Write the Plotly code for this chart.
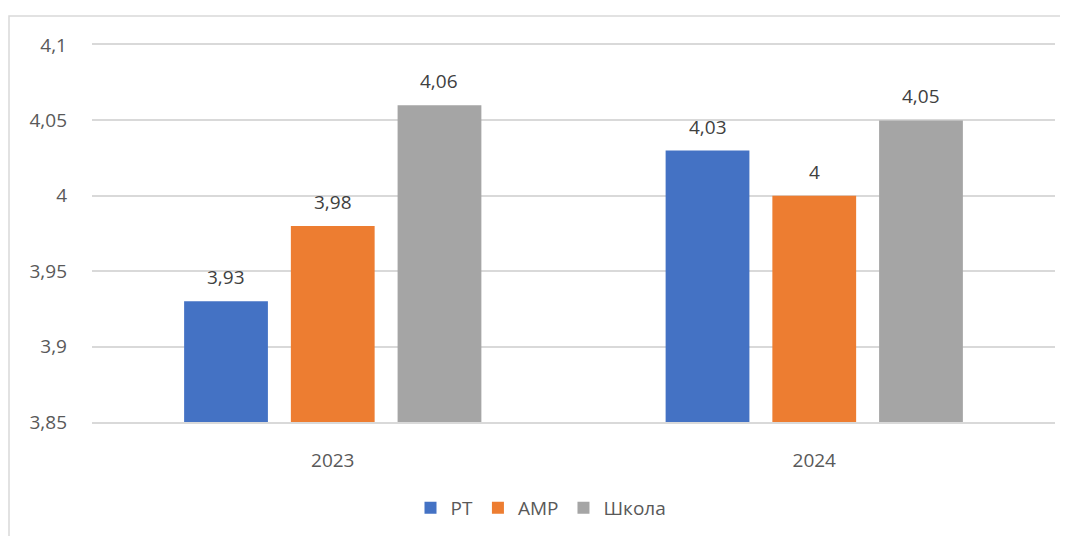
import plotly.graph_objects as go

categories = ["2023", "2024"]
series_names = ["РТ", "АМР", "Школа"]
rt = [3.93, 4.03]
amr = [3.98, 4.00]
school = [4.06, 4.05]
colors = ["#4472C4", "#ED7D31", "#A5A5A5"]
tick_vals = [3.85, 3.9, 3.95, 4.0, 4.05, 4.1]

def fmt(v):
    s = ("%.2f" % v).rstrip("0").rstrip(".")
    return s.replace(".", ",")

# page body has an 8px default margin
OFF = 8
W, H = 1068 - OFF, 536 - OFF
ml, mt = 92 - OFF, 45 - OFF
mr = 1068 - 1055
mb = 536 - 422
pw, ph = W - ml - mr, H - mt - mb

fig = go.Figure()
for i, (name, vals, c) in enumerate(zip(series_names, [rt, amr, school], colors)):
    fig.add_trace(go.Bar(
        x=categories, y=vals, name=name, marker=dict(color=c, line=dict(width=0)),
    ))

bargap, bargroupgap = 0.335, 0.215
slot = (1 - bargap) / 3
annotations = []
for i, vals in enumerate([rt, amr, school]):
    for j, v in enumerate(vals):
        annotations.append(dict(
            x=j, y=v, xref="x", yref="y", text=fmt(v), showarrow=False,
            xshift=(i - 1) * slot * (pw / 2), yshift=24,
            font=dict(size=19, color="#404040"),
        ))

fig.update_layout(
    width=W, height=H,
    margin=dict(l=ml, r=mr, t=mt, b=mb, autoexpand=False),
    paper_bgcolor="white", plot_bgcolor="white",
    barmode="group", bargap=bargap, bargroupgap=bargroupgap,
    font=dict(family="Open Sans, Liberation Sans, sans-serif", size=18, color="#595959"),
    showlegend=True,
    legend=dict(orientation="h", x=(541 - 92) / pw, xanchor="center",
                y=-(508 - 422) / ph, yanchor="middle",
                font=dict(size=19, color="#595959"), itemwidth=30,
                traceorder="normal"),
    yaxis=dict(range=[3.85, 4.1], tickvals=tick_vals,
               ticktext=[fmt(v) for v in tick_vals],
               showgrid=True, gridcolor="#D9D9D9", gridwidth=1.5,
               zeroline=False, showline=False, ticks="", ticklabelstandoff=24,
               tickfont=dict(size=19, color="#595959")),
    xaxis=dict(showgrid=False, showline=True, mirror=True, linecolor="#D9D9D9",
               linewidth=1.5, ticks="", ticklabelstandoff=20,
               tickfont=dict(size=19, color="#595959")),
    annotations=annotations,
    shapes=[dict(type="rect", xref="paper", yref="paper",
                 x0=(9 - 92) / pw, x1=(1075 - 92) / pw,
                 y0=-(560 - 422) / ph, y1=(422 - 16) / ph,
                 line=dict(color="#D9D9D9", width=1.5), fillcolor="rgba(0,0,0,0)",
                 layer="below")],
)

fig.write_html("out.html")
